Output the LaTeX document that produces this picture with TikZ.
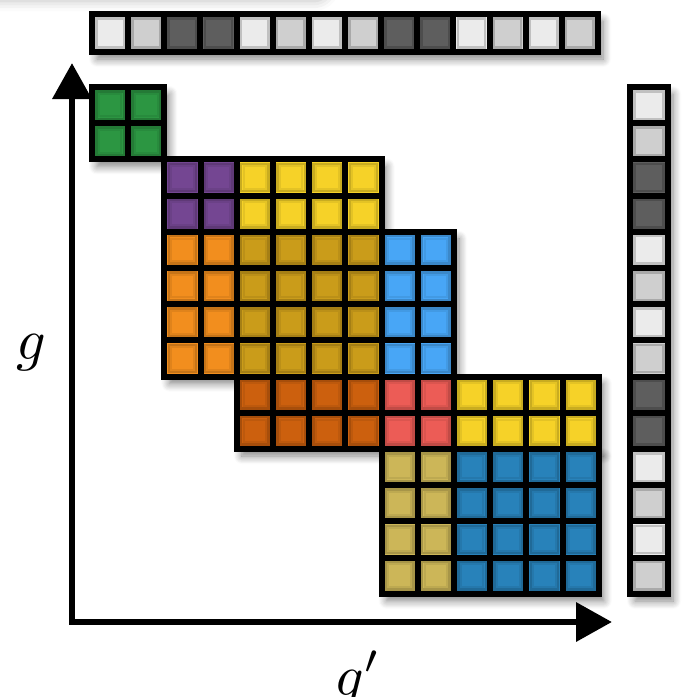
\documentclass[tikz,border=0pt]{standalone}
\usepackage{amsmath}
\usetikzlibrary{arrows.meta,shadows.blur}

\definecolor{cGreen}{RGB}{44,150,66}
\definecolor{cPurple}{RGB}{116,70,146}
\definecolor{cYellow}{RGB}{246,210,40}
\definecolor{cOrange}{RGB}{242,142,30}
\definecolor{cOlive}{RGB}{202,156,26}
\definecolor{cSky}{RGB}{72,166,246}
\definecolor{cRust}{RGB}{204,96,14}
\definecolor{cRed}{RGB}{236,92,86}
\definecolor{cKhaki}{RGB}{204,182,88}
\definecolor{cSteel}{RGB}{40,130,186}

\tikzset{
  cell/.style={draw=black, line width=3pt},
  rim/.style={draw=black, line width=1.2pt, opacity=0.18},
  softrim/.style={draw=black, line width=1pt, opacity=0.07},
  drop/.style={blur shadow={shadow xshift=2.5pt, shadow yshift=-3.5pt,
      shadow blur steps=8, shadow blur radius=4pt, shadow opacity=50}},
  axis/.style={line width=3.4pt, line join=miter,
      >={Triangle[width=19pt,length=18pt,fill=black]}, <->},
  lbl/.style={scale=2.9, inner sep=0pt},
}

\begin{document}
\begin{tikzpicture}[x=0.5pt, y=-0.5pt]
  \useasboundingbox (0,0) rectangle (684,697);

  % faint shadow along the top edge
  \path[blur shadow={shadow xshift=0pt, shadow yshift=-2pt, shadow blur radius=5pt,
      shadow opacity=25}] [rounded corners=8pt] (-20,-40) rectangle (330,-3);

  % shadows of the blocks
  \foreach \c/\r/\w/\h in {0/0/2/2, 2/2/6/2, 2/4/8/4, 4/8/10/2, 8/10/6/4}
    \path[drop, fill=white] (92+\c*36.2, 87+\r*36.2) rectangle ++(\w*36.2, \h*36.2);

  % coloured blocks: column, row, width, height, colour
  \foreach \c/\r/\w/\h/\col in {0/0/2/2/cGreen, 2/2/2/2/cPurple, 4/2/4/2/cYellow,
      2/4/2/4/cOrange, 4/4/4/4/cOlive, 8/4/2/4/cSky, 4/8/4/2/cRust,
      8/8/2/2/cRed, 10/8/4/2/cYellow, 8/10/2/4/cKhaki, 10/10/4/4/cSteel}
    \foreach \i in {1,...,\w}
      \foreach \j in {1,...,\h} {
        \draw[cell, fill=\col] (92+\c*36.2+\i*36.2-36.2, 87+\r*36.2+\j*36.2-36.2) rectangle ++(36.2, 36.2);
        \draw[rim] (92+\c*36.2+\i*36.2-31.8, 87+\r*36.2+\j*36.2-31.8) rectangle ++(27.4, 27.4);
        \draw[softrim] (92+\c*36.2+\i*36.2-29.4, 87+\r*36.2+\j*36.2-29.4) rectangle ++(22.6, 22.6);
      }

  % grey bars
  \path[drop, fill=white] (92,14) rectangle (598,52);
  \path[drop, fill=white] (630,87) rectangle (668,594);
  \foreach \v [count=\i from 0] in {92,81,37,37,92,81,92,81,37,37,92,81,92,81} {
    \draw[cell, fill=white!\v!black] (92+\i*36.14, 14) rectangle ++(36.14, 38);
    \draw[rim] (96.4+\i*36.14, 18.4) rectangle ++(27.34, 29.2);
    \draw[cell, fill=white!\v!black] (630, 87+\i*36.2) rectangle ++(38, 36.2);
    \draw[rim] (634.4, 91.4+\i*36.2) rectangle ++(29.2, 27.4);
  }

  % axes
  \coordinate (origin) at (72,622);
  \coordinate (ytip) at (72,63);
  \coordinate (xtip) at (612,622);
  \draw[axis] (ytip) -- (origin) -- (xtip);

  \node[lbl] (glabel) at (31,353) {$g$};
  \node[lbl, anchor=base] (gplabel) at (358,695) {$g'$};
\end{tikzpicture}
\end{document}
